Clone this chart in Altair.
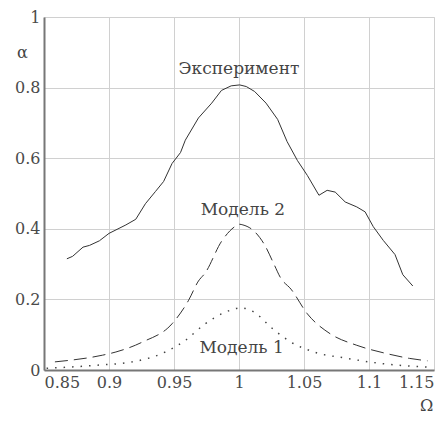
import altair as alt
import pandas as pd

# Experiment (solid)
exp_x = [0.8676, 0.872, 0.880, 0.885, 0.8926, 0.900, 0.913, 0.9206, 0.928, 0.9358, 0.942, 0.9485,
         0.955, 0.9587, 0.9688, 0.979, 0.9865, 0.994, 1.0005, 1.0056, 1.012, 1.0208, 1.0297, 1.037,
         1.045, 1.0526, 1.0615, 1.0678, 1.074, 1.0817, 1.0906, 1.097, 1.1033, 1.111, 1.120, 1.126, 1.1337]
exp_y = [0.315, 0.322, 0.348, 0.353, 0.366, 0.387, 0.411, 0.427, 0.471, 0.506, 0.534, 0.585,
         0.616, 0.651, 0.714, 0.756, 0.792, 0.805, 0.8076, 0.803, 0.789, 0.756, 0.710, 0.647,
         0.593, 0.551, 0.495, 0.509, 0.504, 0.476, 0.462, 0.448, 0.406, 0.367, 0.327, 0.270, 0.238]

# Model 2 (dashed)
m2_x = [0.8584, 0.895, 0.9053, 0.9256, 0.9485, 0.961, 0.9688, 0.974, 0.9865, 0.9967, 1.0, 1.003,
        1.012, 1.0196, 1.027, 1.032, 1.040, 1.0526, 1.070, 1.0906, 1.113, 1.131, 1.145]
m2_y = [0.023, 0.042, 0.051, 0.079, 0.131, 0.196, 0.252, 0.275, 0.364, 0.406, 0.413, 0.411,
        0.392, 0.355, 0.299, 0.261, 0.229, 0.159, 0.103, 0.070, 0.047, 0.033, 0.026]

# Model 1 (dotted)
m1_x = [0.852, 0.8926, 0.918, 0.9434, 0.9587, 0.974, 0.989, 1.0017, 1.012, 1.0246, 1.04, 1.0577,
        1.083, 1.108, 1.146]
m1_y = [0.005, 0.014, 0.023, 0.051, 0.084, 0.131, 0.163, 0.176, 0.163, 0.121, 0.079, 0.051,
        0.033, 0.019, 0.008]

label_text = ["Эксперимент", "Модель 2", "Модель 1"]
label_x = [1.0, 1.003, 1.002]
label_y = [0.854, 0.454, 0.062]

x_ticks = [0.85, 0.9, 0.95, 1.0, 1.05, 1.1, 1.15]
y_ticks = [0, 0.2, 0.4, 0.6, 0.8, 1.0]

exp_df = pd.DataFrame({"x": exp_x, "y": exp_y})
m2_df = pd.DataFrame({"x": m2_x, "y": m2_y})
m1_df = pd.DataFrame({"x": m1_x, "y": m1_y})
lab_df = pd.DataFrame({"t": label_text, "x": label_x, "y": label_y})

FONT = "DejaVu Serif"
xs = alt.Scale(domain=[0.85, 1.15], nice=False, zero=False)
ys = alt.Scale(domain=[0, 1], nice=False)

xenc = alt.X("x:Q", scale=xs, axis=alt.Axis(
    values=x_ticks, format=".2~f", title="Ω", titleX=382, titleY=35,
    titleFontWeight="normal", titleFont=FONT, titleFontSize=16, titleColor="#444",
    titleBaseline="middle",
    labelFont=FONT, labelFontSize=16, labelColor="#4a4a4a", labelPadding=4,
    ticks=False, domainColor="#777", domainWidth=2, gridColor="#d0d0d0",
    labelFlush=True))
yenc = alt.Y("y:Q", scale=ys, axis=alt.Axis(
    values=y_ticks, format=".1~f", title="α", titleAngle=0, titleX=-22, titleY=35,
    titleFontWeight="normal", titleFont=FONT, titleFontSize=16, titleColor="#444",
    titleBaseline="middle",
    labelFont=FONT, labelFontSize=16, labelColor="#4a4a4a", labelPadding=4,
    ticks=False, domainColor="#777", domainWidth=2, gridColor="#d0d0d0",
    labelFlush=False))

exp_line = alt.Chart(exp_df).mark_line(color="#333", strokeWidth=1).encode(x=xenc, y=yenc)
m2_line = alt.Chart(m2_df).mark_line(color="#333", strokeWidth=1, strokeDash=[13, 6],
                                      interpolate="monotone").encode(x="x:Q", y="y:Q")
m1_line = alt.Chart(m1_df).mark_line(color="#444", strokeWidth=1.5, strokeDash=[1.5, 7],
                                      interpolate="monotone").encode(x="x:Q", y="y:Q")
labels = alt.Chart(lab_df).mark_text(font=FONT, fontSize=17, color="#444",
                                     baseline="middle").encode(x="x:Q", y="y:Q", text="t:N")

chart = alt.layer(exp_line, m2_line, m1_line, labels).properties(
    width=390, height=353,
    autosize=alt.AutoSizeParams(type="none"),
    padding={"left": 36, "top": 9, "right": 1, "bottom": 43},
).configure_view(stroke="#888", strokeWidth=1.5).configure(background="white")

chart.save("out.html", embed_options={"renderer": "svg", "actions": False})
